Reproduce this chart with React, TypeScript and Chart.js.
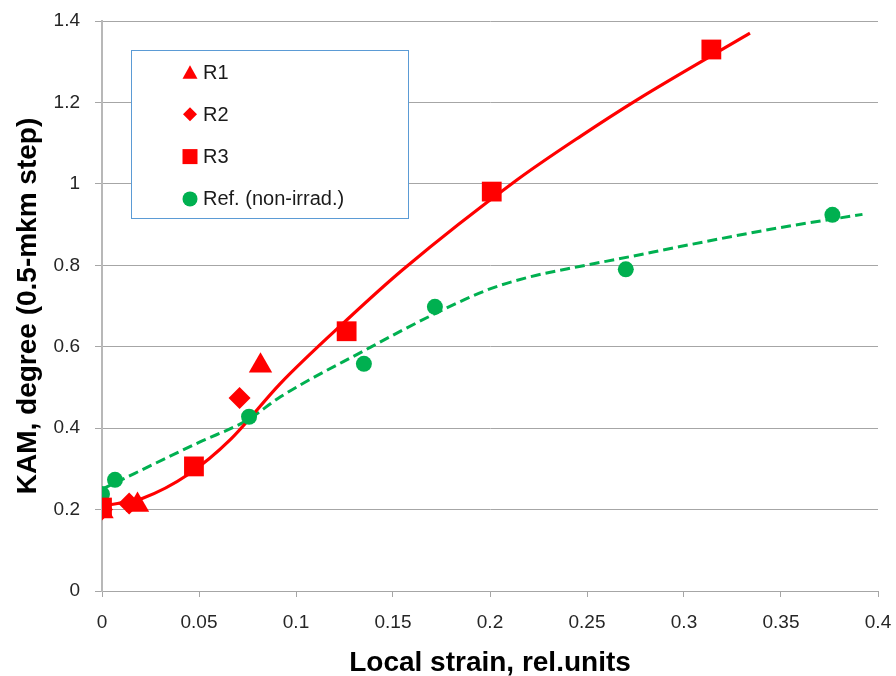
import React, { useEffect, useRef } from "react";
import { Chart, registerables } from "chart.js";

Chart.register(...registerables);

// ---- Data ----
const r1X = [0, 0.0183, 0.0817];
const r1Y = [0.195, 0.211, 0.553];

const r2X = [0, 0.014, 0.0709];
const r2Y = [0.2, 0.215, 0.474];

const r3X = [0, 0.0474, 0.1261, 0.2009, 0.3141];
const r3Y = [0.205, 0.306, 0.638, 0.981, 1.33];

const refX = [0, 0.0067, 0.0758, 0.135, 0.1716, 0.27, 0.3765];
const refY = [0.238, 0.273, 0.428, 0.558, 0.698, 0.79, 0.924];

// smoothed trend lines (as drawn in the reference)
const redTrendX = [0, 0.008, 0.021, 0.045, 0.066, 0.092, 0.126, 0.155, 0.214, 0.247, 0.276, 0.334];
const redTrendY = [0.21, 0.215, 0.228, 0.288, 0.371, 0.51, 0.665, 0.789, 1.01, 1.118, 1.207, 1.37];

const greenTrendX = [0, 0.05, 0.075, 0.092, 0.135, 0.172, 0.2, 0.221, 0.246, 0.272, 0.298, 0.35, 0.392];
const greenTrendY = [0.25, 0.365, 0.42, 0.477, 0.59, 0.682, 0.742, 0.772, 0.797, 0.821, 0.846, 0.893, 0.925];

const xTickValues = [0, 0.05, 0.1, 0.15, 0.2, 0.25, 0.3, 0.35, 0.4];
const xTickLabels = ["0", "0.05", "0.1", "0.15", "0.2", "0.25", "0.3", "0.35", "0.4"];
const yTickValues = [0, 0.2, 0.4, 0.6, 0.8, 1, 1.2, 1.4];
const yTickLabels = ["0", "0.2", "0.4", "0.6", "0.8", "1", "1.2", "1.4"];

const seriesNames = ["R1", "R2", "R3", "Ref. (non-irrad.)"];
const xTitle = "Local strain, rel.units";
const yTitle = "KAM, degree (0.5-mkm step)";

const RED = "#ff0000";
const GREEN = "#00b050";
const FONT = "'Liberation Sans', Arial, sans-serif";

const zip = (xs: number[], ys: number[]) => xs.map((x, i) => ({ x, y: ys[i] }));

function drawMarker(ctx: CanvasRenderingContext2D, style: string, x: number, y: number, color: string) {
  ctx.save();
  ctx.fillStyle = color;
  ctx.beginPath();
  if (style === "triangle") {
    const s = 15;
    const h = s * 0.9;
    ctx.moveTo(x, y - h / 2);
    ctx.lineTo(x + s / 2, y + h / 2);
    ctx.lineTo(x - s / 2, y + h / 2);
    ctx.closePath();
  } else if (style === "rectRot") {
    const d = 7;
    ctx.moveTo(x, y - d);
    ctx.lineTo(x + d, y);
    ctx.lineTo(x, y + d);
    ctx.lineTo(x - d, y);
    ctx.closePath();
  } else if (style === "rect") {
    const s = 15;
    ctx.rect(x - s / 2, y - s / 2, s, s);
  } else {
    ctx.arc(x, y, 7.5, 0, Math.PI * 2);
  }
  ctx.fill();
  ctx.restore();
}

const boxLegend = {
  id: "boxLegend",
  afterDraw(chart: any) {
    const { ctx, chartArea } = chart;
    const x0 = chartArea.left + 29;
    const y0 = chartArea.top + 29;
    const w = 277;
    const h = 168;
    ctx.save();
    ctx.fillStyle = "#ffffff";
    ctx.fillRect(x0, y0, w, h);
    ctx.strokeStyle = "#5b9bd5";
    ctx.lineWidth = 1;
    ctx.strokeRect(x0 + 0.5, y0 + 0.5, w, h);
    const items = chart.data.datasets.filter((d: any) => d.inLegend);
    ctx.font = `20px ${FONT}`;
    ctx.textBaseline = "middle";
    ctx.textAlign = "left";
    items.forEach((d: any, i: number) => {
      const cy = y0 + 22 + i * 42.3;
      drawMarker(ctx, d.pointStyle, x0 + 59, cy, d.backgroundColor);
      ctx.fillStyle = "#1a1a1a";
      ctx.fillText(d.label, x0 + 72, cy + 1);
    });
    ctx.restore();
  },
};

export default function App() {
  const ref = useRef<HTMLCanvasElement | null>(null);

  useEffect(() => {
    if (!ref.current) return;
    const chart = new Chart(ref.current, {
      type: "scatter",
      data: {
        datasets: [
          {
            label: seriesNames[0],
            data: zip(r1X, r1Y),
            pointStyle: "triangle",
            pointRadius: 13.5,
            pointHoverRadius: 13.5,
            backgroundColor: RED,
            borderColor: RED,
            borderWidth: 0,
            order: 1,
            inLegend: true,
          } as any,
          {
            label: seriesNames[1],
            data: zip(r2X, r2Y),
            pointStyle: "rectRot",
            pointRadius: 11,
            pointHoverRadius: 11,
            backgroundColor: RED,
            borderColor: RED,
            borderWidth: 0,
            order: 1,
            inLegend: true,
          } as any,
          {
            label: seriesNames[2],
            data: zip(r3X, r3Y),
            pointStyle: "rect",
            pointRadius: 14,
            pointHoverRadius: 14,
            backgroundColor: RED,
            borderColor: RED,
            borderWidth: 0,
            order: 1,
            inLegend: true,
          } as any,
          {
            label: seriesNames[3],
            data: zip(refX, refY),
            pointStyle: "circle",
            pointRadius: 8,
            pointHoverRadius: 8,
            backgroundColor: GREEN,
            borderColor: GREEN,
            borderWidth: 0,
            order: 2,
            inLegend: true,
          } as any,
          {
            label: "R trend",
            data: zip(redTrendX, redTrendY),
            showLine: true,
            pointRadius: 0,
            borderColor: RED,
            backgroundColor: RED,
            borderWidth: 3.2,
            cubicInterpolationMode: "monotone",
            order: 3,
          } as any,
          {
            label: "Ref trend",
            data: zip(greenTrendX, greenTrendY),
            showLine: true,
            pointRadius: 0,
            borderColor: GREEN,
            backgroundColor: GREEN,
            borderWidth: 3,
            borderDash: [10, 5],
            cubicInterpolationMode: "monotone",
            order: 4,
          } as any,
        ],
      },
      options: {
        animation: false,
        responsive: false,
        maintainAspectRatio: false,
        devicePixelRatio: 1,
        layout: { padding: { left: 0, top: 21, right: 18, bottom: 0 } },
        plugins: {
          legend: { display: false },
          tooltip: { enabled: false },
        },
        scales: {
          x: {
            type: "linear",
            min: 0,
            max: 0.4,
            afterBuildTicks: (s: any) => {
              s.ticks = xTickValues.map((v) => ({ value: v }));
            },
            afterFit: (s: any) => {
              s.height = 85;
              s.paddingLeft = 0;
              s.paddingRight = 0;
            },
            ticks: {
              autoSkip: false,
              maxRotation: 0,
              padding: 14,
              color: "#262626",
              font: { size: 19, family: FONT },
              callback: (v: any) => {
                const i = xTickValues.findIndex((t) => Math.abs(t - v) < 1e-9);
                return i >= 0 ? xTickLabels[i] : "";
              },
            },
            grid: {
              drawOnChartArea: false,
              drawTicks: true,
              tickLength: 6,
              color: "#a6a6a6",
              tickColor: "#a6a6a6",
            },
            border: { display: true, color: "#a6a6a6", width: 1 },
            title: {
              display: true,
              text: xTitle,
              color: "#000000",
              font: { size: 28, weight: "bold", family: FONT, lineHeight: 0.9 },
              padding: { top: 0, bottom: 0 },
            },
          },
          y: {
            type: "linear",
            min: 0,
            max: 1.4,
            afterBuildTicks: (s: any) => {
              s.ticks = yTickValues.map((v) => ({ value: v }));
            },
            afterFit: (s: any) => {
              s.width = 102;
              s.paddingTop = 0;
              s.paddingBottom = 0;
            },
            ticks: {
              autoSkip: false,
              padding: 15,
              color: "#262626",
              font: { size: 19, family: FONT },
              callback: (v: any) => {
                const i = yTickValues.findIndex((t) => Math.abs(t - v) < 1e-9);
                return i >= 0 ? yTickLabels[i] : "";
              },
            },
            grid: {
              drawOnChartArea: true,
              drawTicks: true,
              tickLength: 7,
              color: "#a6a6a6",
              tickColor: "#a6a6a6",
              lineWidth: 1,
            },
            border: { display: true, color: "#b8b8b8", width: 2 },
            title: {
              display: true,
              text: yTitle,
              color: "#000000",
              font: { size: 28, weight: "bold", family: FONT, lineHeight: 0.9 },
              padding: { top: 16, bottom: 0 },
            },
          },
        },
      },
      plugins: [boxLegend],
    });
    return () => chart.destroy();
  }, []);

  return (
    <div style={{ position: "absolute", left: 0, top: 0, width: 896, height: 676, background: "#fff" }}>
      <canvas ref={ref} width={896} height={676} style={{ display: "block", width: 896, height: 676 }} />
    </div>
  );
}
